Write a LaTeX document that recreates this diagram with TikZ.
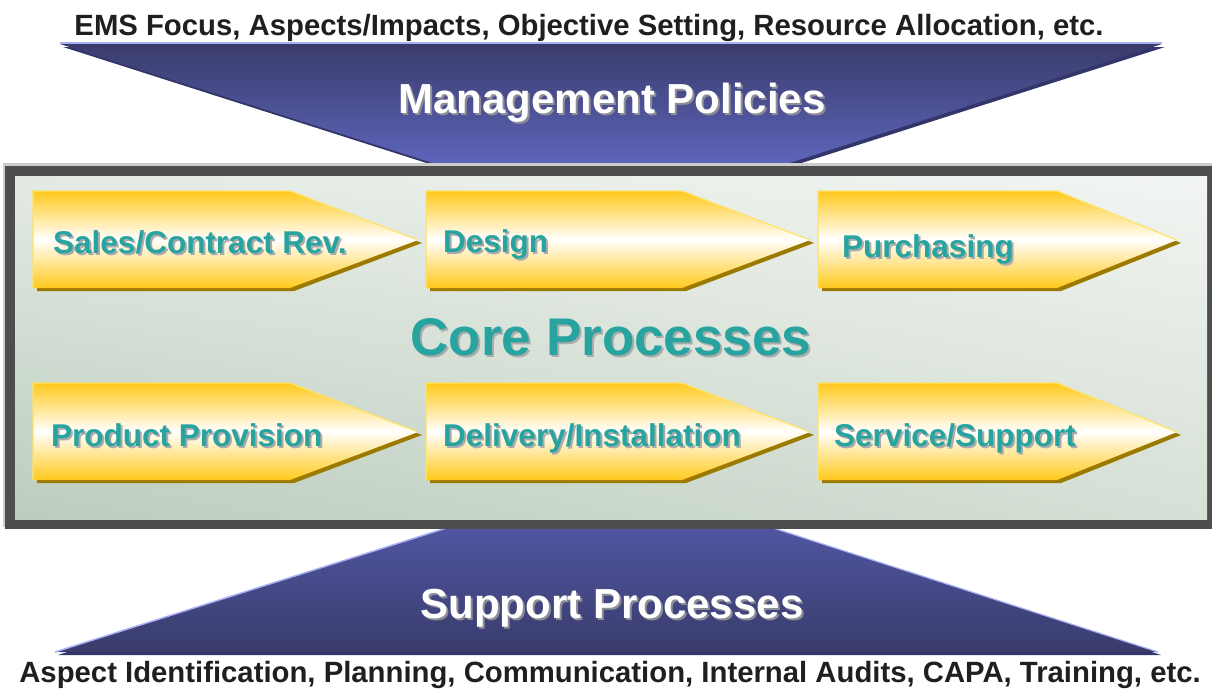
\documentclass[tikz,border=0pt]{standalone}
\usepackage{fontspec}
\setmainfont{Liberation Sans}
\usepackage{tikz}
\usetikzlibrary{positioning, shadings}
\usepackage{xcolor}
\definecolor{tealtext}{HTML}{27A4A0}
\definecolor{txtshadow}{HTML}{ABABAB}
\definecolor{bandtxtshadow}{HTML}{8E8E96}
\definecolor{gold}{HTML}{FFC91C}
\definecolor{goldedge}{HTML}{FFE266}
\definecolor{goldshadow}{HTML}{9C7A00}
\definecolor{navy}{HTML}{393C6B}
\definecolor{navydeep}{HTML}{33366A}
\definecolor{peri}{HTML}{7A80DD}
\definecolor{perimid}{HTML}{6167C0}
\definecolor{peridark}{HTML}{5257A6}
\definecolor{periedge}{HTML}{AAB0F4}
\definecolor{boxgray}{HTML}{4E4E4E}
\definecolor{boxhl}{HTML}{CDCDCD}
\definecolor{coreUL}{HTML}{E3EAE3}
\definecolor{coreUR}{HTML}{F2F5F2}
\definecolor{coreLL}{HTML}{BCCDBE}
\definecolor{coreLR}{HTML}{D6E0D6}

% text with a soft drop shadow behind it
\newcommand{\dropshade}[2][txtshadow]{%
  \makebox[0pt][l]{\hspace{2pt}\raisebox{-2pt}{\color{#1}#2}}#2}

\begin{document}
\begin{tikzpicture}[x=1pt, y=-1pt,
    chev/.style={top color=gold, bottom color=gold, middle color=white},
    chevline/.style={draw=goldedge, line width=1.2pt},
    chevshadow/.style={fill=goldshadow},
    lbl/.style={anchor=base west, inner sep=0pt, text=tealtext,
      font=\fontsize{31.5}{36}\selectfont\bfseries},
    band/.style={anchor=base, inner sep=0pt, text=white,
      font=\fontsize{42}{48}\selectfont\bfseries},
    core/.style={anchor=base, inner sep=0pt, text=tealtext,
      font=\fontsize{53}{60}\selectfont\bfseries},
    note/.style={anchor=base, inner sep=0pt, text=black!88,
      font=\fontsize{29.3}{34}\selectfont\bfseries}
  ]
  \useasboundingbox (0,0) rectangle (1212,688);

  % top band: management policies
  \fill[navydeep, xshift=3pt, yshift=-3pt]
    (60,44) -- (1162,44) -- (761,172) -- (461,172) -- cycle;
  \shade[top color=navy, middle color=peri, bottom color=perimid]
    (60,44) -- (1162,44) -- (761,172) -- (461,172) -- cycle;
  \draw[periedge, line width=1.5pt] (60,43) -- (1162,43);

  % bottom band: support processes
  \fill[navydeep, xshift=3pt, yshift=-3pt]
    (478,518) -- (742,518) -- (1158,652) -- (55,652) -- cycle;
  \shade[top color=peridark, middle color=peri, bottom color=navy]
    (478,518) -- (742,518) -- (1158,652) -- (55,652) -- cycle;
  \draw[periedge, line width=1.5pt] (55,652) -- (478,518);
  \draw[periedge, line width=1.2pt] (742,518) -- (1158,652);

  % core process frame
  \fill[boxhl] (3,163) rectangle (1214,527);
  \fill[boxgray] (5,166) rectangle (1216,529);
  \shade[upper left=coreUL, upper right=coreUR,
         lower left=coreLL, lower right=coreLR]
    (15,176) rectangle (1207,519);

  % chevrons: left, slant start, tip, top, label x, label baseline
  \foreach \x/\s/\t/\y/\tx/\ty/\nm/\txt in {
      33/290/418/191/53/253/sales/{Sales/Contract Rev.},
      426/682/810/191/443/252/design/{Design},
      818/1057/1177/191/842/257/purch/{Purchasing},
      33/290/418/383/51/446/prod/{Product Provision},
      426/682/810/383/443/446/deliv/{Delivery/Installation},
      818/1057/1177/383/834/446/serv/{Service/Support}} {
    \fill[chevshadow, xshift=4pt, yshift=-3pt]
      (\x,\y) -- (\s,\y) -- (\t,{\y+49}) -- (\s,{\y+97}) -- (\x,{\y+97}) -- cycle;
    \shade[chev]
      (\x,\y) -- (\s,\y) -- (\t,{\y+49}) -- (\s,{\y+97}) -- (\x,{\y+97}) -- cycle;
    \draw[chevline] (\x,{\y+97}) -- (\x,\y) -- (\s,\y) -- (\t,{\y+49});
    \node[lbl] (\nm) at (\tx,\ty) {\dropshade{\txt}};
  }

  % titles
  \node[band] (mgmt) at (612,113) {\dropshade[bandtxtshadow]{Management Policies}};
  \node[band] (supp) at (612,618) {\dropshade[bandtxtshadow]{Support Processes}};
  \node[core] (coretitle) at (611,355) {\dropshade{Core Processes}};

  % inputs and supporting activities
  \node[note] (inputs) at (589,35)
    {EMS Focus, Aspects/Impacts, Objective Setting, Resource Allocation, etc.};
  \node[note] (support) at (610,682)
    {Aspect Identification, Planning, Communication, Internal Audits, CAPA, Training, etc.};
\end{tikzpicture}
\end{document}
